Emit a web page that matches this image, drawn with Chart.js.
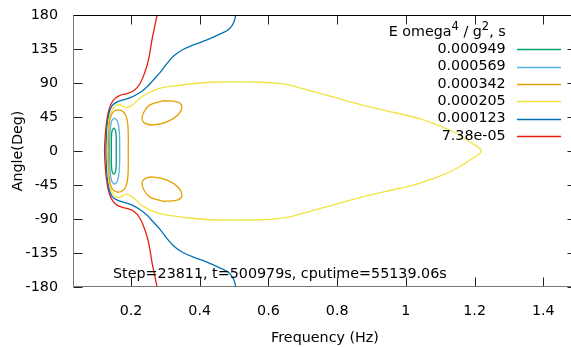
<!DOCTYPE html>
<html><head><meta charset="utf-8">
<script src="https://cdn.jsdelivr.net/npm/chart.js@4.4.1/dist/chart.umd.min.js"></script>
<style>
html,body{margin:0;padding:0;overflow:hidden;background:#fff;width:571px;height:347px}
#wrap{width:590px;height:347px}
canvas{display:block}
</style>
</head><body><div id="wrap"><canvas id="c" width="590" height="347"></canvas></div>
<script>
// ---- data ----
const levelLabels = ['0.000949','0.000569','0.000342','0.000205','0.000123','7.38e-05'];
const levelColors = ['#009e73','#56b4e9','#e69f00','#f0e442','#0072b2','#e51e10'];
const xTicks = [0.2,0.4,0.6,0.8,1,1.2,1.4];
const yTicks = [-180,-135,-90,-45,0,45,90,135,180];
const xRange = [0.0312, 1.498];
const yRange = [-180, 180];
const keyTitle = ['E omega','4',' / g','2',', s'];
const infoText = 'Step=23811, t=500979s, cputime=55139.06s';

// contour lines [frequency Hz, angle deg]; null separates pieces
const c0949 = [[0.150,30.5],[0.155,27],[0.157,17],[0.157,0],[0.157,-17],[0.155,-27],[0.150,-30.5],[0.145,-27],[0.143,-17],[0.143,0],[0.143,17],[0.145,27],[0.150,30.5]];
const c0569 = [[0.152,43.7],[0.160,40],[0.165,30],[0.167,15],[0.167,0],[0.167,-15],[0.165,-30],[0.160,-40],[0.152,-43.7],[0.144,-40],[0.140,-30],[0.138,-15],[0.138,0],[0.138,15],[0.140,30],[0.144,40],[0.152,43.7]];
const c0342 = [[0.163,54.5],[0.174,53],[0.184,48],[0.190,38],[0.192,22],[0.192,0],[0.192,-22],[0.190,-38],[0.184,-48],[0.174,-53],[0.163,-54.5],[0.152,-53],[0.144,-49],[0.138,-40],[0.135,-25],[0.134,0],[0.135,25],[0.138,40],[0.144,49],[0.152,53],[0.163,54.5],
  null,
  [0.293,66.5],[0.334,65],[0.348,59],[0.337,48],[0.305,38.5],[0.264,34.5],[0.241,36.5],[0.232,42],[0.238,52],[0.255,61],[0.293,66.5],
  null,
  [0.293,-66.5],[0.334,-65],[0.348,-59],[0.337,-48],[0.305,-38.5],[0.264,-34.5],[0.241,-36.5],[0.232,-42],[0.238,-52],[0.255,-61],[0.293,-66.5]];
const c0205 = [[0.500,91.5],[0.580,91],[0.630,89.5],[0.665,87],[0.700,82.5],[0.788,71.5],[0.860,62.5],[0.933,54.3],[1.032,43.7],[1.100,33],[1.150,22.5],[1.190,11],[1.219,0],[1.190,-11],[1.150,-22.5],[1.100,-33],[1.032,-43.7],[0.933,-54.3],[0.860,-62.5],[0.788,-71.5],[0.700,-82.5],[0.665,-87],[0.630,-89.5],[0.580,-91],[0.500,-91.5],[0.430,-91],[0.372,-88.7],[0.322,-86],[0.276,-82],[0.235,-73],[0.212,-64],[0.198,-59],[0.186,-57.5],[0.176,-59.5],[0.165,-61.5],[0.155,-60],[0.146,-55],[0.139,-46],[0.1345,-35],[0.1325,-20],[0.1316,0],[0.1325,20],[0.1345,35],[0.139,46],[0.146,55],[0.155,60],[0.165,61.5],[0.176,59.5],[0.186,57.5],[0.198,59],[0.212,64],[0.235,73],[0.276,82],[0.322,86],[0.372,88.7],[0.430,91],[0.500,91.5]];
const c0123 = [[0.505,180],[0.499,170],[0.485,161],[0.460,155],[0.421,147],[0.385,141],[0.350,134],[0.325,126],[0.305,116],[0.285,104],[0.265,94],[0.247,85],[0.225,77],[0.200,71],[0.180,68],[0.160,65],[0.145,60],[0.136,50],[0.130,32],[0.128,15],[0.127,0],[0.128,-15],[0.130,-32],[0.136,-50],[0.145,-60],[0.160,-65],[0.180,-68],[0.200,-71],[0.225,-77],[0.247,-85],[0.265,-94],[0.285,-104],[0.305,-116],[0.325,-126],[0.350,-134],[0.385,-141],[0.421,-147],[0.460,-155],[0.485,-161],[0.499,-170],[0.505,-180]];
const c738 = [[0.276,180],[0.270,167],[0.261,147],[0.252,123],[0.241,105],[0.226,89],[0.209,80],[0.188,76],[0.165,73],[0.148,67],[0.136,55],[0.129,38],[0.125,20],[0.123,0],[0.125,-20],[0.129,-38],[0.136,-55],[0.148,-67],[0.165,-73],[0.188,-76],[0.209,-80],[0.226,-89],[0.241,-105],[0.252,-123],[0.261,-147],[0.270,-167],[0.276,-180]];
const contours = [c0949, c0569, c0342, c0205, c0123, c738];

// ---- chart ----
const FONT = "'DejaVu Sans', sans-serif";
const FS = 14.3;
const AREA = { left: 73, top: 15, right: 577, bottom: 287 };
function pts(arr){ let prev = 0; return arr.map(p => { if (p === null) return {x: prev, y: null}; prev = p[0]; return {x: p[0], y: p[1]}; }); }

const datasets = contours.map((c, i) => ({
  label: levelLabels[i], data: pts(c), borderColor: levelColors[i], backgroundColor: levelColors[i],
  borderWidth: 1.3, pointRadius: 0, showLine: true, fill: false, tension: 0.4, spanGaps: false
}));

const frame = {
  id: 'frame',
  afterDraw(chart) {
    const {ctx, chartArea: a, scales: {x, y}} = chart;
    ctx.save();
    const L = Math.round(a.left) + 0.5, R = Math.round(a.right) - 0.5, T = Math.round(a.top) + 0.5, B = Math.round(a.bottom) - 0.5;
    ctx.lineWidth = 1;
    ctx.strokeStyle = '#222';
    ctx.beginPath();
    xTicks.forEach(v => { const px = Math.round(x.getPixelForValue(v)) + 0.5; ctx.moveTo(px, B); ctx.lineTo(px, B - 9); ctx.moveTo(px, T); ctx.lineTo(px, T + 9); });
    yTicks.forEach(v => { const py = Math.round(y.getPixelForValue(v)) + 0.5; ctx.moveTo(L, py); ctx.lineTo(L + 9, py); ctx.moveTo(R, py); ctx.lineTo(R - 9, py); });
    ctx.stroke();
    ctx.strokeStyle = '#000';
    ctx.beginPath(); ctx.moveTo(L, T); ctx.lineTo(R, T); ctx.lineTo(R, B); ctx.stroke();
    ctx.strokeStyle = '#777';
    ctx.beginPath(); ctx.moveTo(L, T); ctx.lineTo(L, B); ctx.lineTo(R, B); ctx.stroke();

    // key
    const kx = 505.7, ky0 = 49.3, dy = 17.3;
    ctx.fillStyle = '#000';
    ctx.textBaseline = 'middle';
    ctx.textAlign = 'left';
    const big = FS + 'px ' + FONT, small = '11.5px ' + FONT;
    let w = 0;
    keyTitle.forEach((s, i) => { ctx.font = (i % 2) ? small : big; w += ctx.measureText(s).width; });
    let cx = kx - w;
    keyTitle.forEach((s, i) => {
      ctx.font = (i % 2) ? small : big;
      ctx.fillText(s, cx, ky0 - dy + ((i % 2) ? -5 : 0));
      cx += ctx.measureText(s).width;
    });
    ctx.font = big;
    ctx.textAlign = 'right';
    chart.data.datasets.forEach((ds, i) => {
      const yy = ky0 + i * dy;
      ctx.fillStyle = '#000';
      ctx.fillText(ds.label, kx, yy);
      ctx.strokeStyle = ds.borderColor;
      ctx.lineWidth = 1.3;
      ctx.beginPath(); ctx.moveTo(517, Math.round(yy) + 0.5); ctx.lineTo(561, Math.round(yy) + 0.5); ctx.stroke();
    });
    // info label
    ctx.textAlign = 'left';
    ctx.fillStyle = '#000';
    ctx.fillText(infoText, 113, 274);
    ctx.restore();
  }
};

const chart = new Chart(document.getElementById('c'), {
  type: 'scatter',
  data: { datasets },
  plugins: [frame],
  options: {
    responsive: false, animation: false, devicePixelRatio: 1,
    layout: { padding: { top: 15, right: 13, left: 0, bottom: 0 } },
    plugins: { legend: { display: false }, tooltip: { enabled: false } },
    scales: {
      x: {
        type: 'linear', min: xRange[0], max: xRange[1],
        afterBuildTicks: s => { s.ticks = xTicks.map(v => ({ value: v })); },
        afterFit: s => { s.height = 347 - AREA.bottom; s.paddingLeft = 0; s.paddingRight = 0; },
        grid: { display: false, drawTicks: false }, border: { display: false },
        ticks: { color: '#000', font: { family: FONT, size: FS }, padding: 16, maxRotation: 0, autoSkip: false, callback: v => String(v) },
        title: { display: true, text: 'Frequency (Hz)', color: '#000', font: { family: FONT, size: FS }, padding: { top: 0, bottom: 0.5 } }
      },
      y: {
        type: 'linear', min: yRange[0], max: yRange[1],
        afterBuildTicks: s => { s.ticks = yTicks.map(v => ({ value: v })); },
        afterFit: s => { s.width = AREA.left; s.paddingTop = 0; s.paddingBottom = 0; },
        grid: { display: false, drawTicks: false }, border: { display: false },
        ticks: { color: '#000', font: { family: FONT, size: FS }, padding: 15, autoSkip: false, callback: v => String(v) },
        title: { display: true, text: 'Angle(Deg)', color: '#000', font: { family: FONT, size: FS }, padding: { top: 10, bottom: 0 } }
      }
    }
  }
});
// align the plot frame with the reference
const cfgPad = chart.config.options.layout.padding;
const dTop = AREA.top - chart.chartArea.top;
const dRight = chart.chartArea.right - AREA.right;
if (Math.abs(dTop) > 0.1 || Math.abs(dRight) > 0.1) {
  cfgPad.top += dTop;
  cfgPad.right += dRight;
  chart.update();
}
</script>
</body></html>
